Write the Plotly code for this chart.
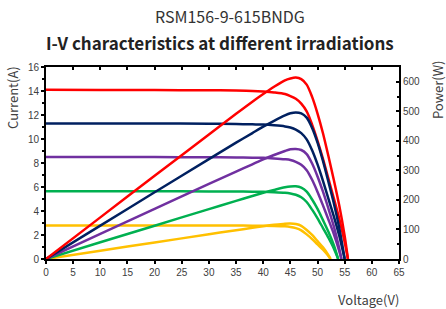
import plotly.graph_objects as go

# ---- data ----
red_v = [0, 10, 20, 30, 35, 38, 40, 42, 44, 45, 46, 47, 48, 49, 50, 51, 52, 53, 54, 55, 55.6]
red_i = [14.10, 14.09, 14.08, 14.06, 14.04, 14.01, 13.96, 13.88, 13.75, 13.58, 13.35, 12.95, 12.30, 11.20, 9.85, 8.35, 6.70, 5.05, 3.35, 1.40, 0]
red_p = [0, 140.9, 281.6, 421.8, 491.4, 532.4, 558.4, 583.0, 605.0, 611.1, 614.1, 608.7, 590.4, 548.8, 492.5, 425.9, 348.4, 267.7, 180.9, 77.0, 0]

navy_v = [0, 10, 20, 30, 35, 38, 40, 42, 44, 45, 46, 47, 48, 49, 50, 51, 52, 53, 54, 55]
navy_i = [11.30, 11.30, 11.29, 11.27, 11.25, 11.22, 11.20, 11.14, 11.05, 10.96, 10.79, 10.49, 9.97, 9.06, 7.88, 6.51, 5.03, 3.56, 1.94, 0]
navy_p = [0, 113.0, 225.8, 338.1, 393.8, 426.4, 448.0, 467.9, 486.2, 493.2, 496.3, 493.0, 478.6, 443.9, 394.0, 332.0, 261.6, 188.7, 104.8, 0]

purple_v = [0, 10, 20, 30, 35, 38, 40, 42, 44, 45, 46, 47, 48, 49, 50, 51, 52, 53, 54, 54.4]
purple_i = [8.50, 8.50, 8.49, 8.48, 8.46, 8.44, 8.43, 8.38, 8.31, 8.25, 8.10, 7.85, 7.40, 6.60, 5.59, 4.47, 3.29, 2.08, 0.66, 0]
purple_p = [0, 85.0, 169.8, 254.4, 296.1, 320.7, 337.2, 352.0, 365.6, 371.3, 372.6, 369.0, 355.2, 323.4, 279.5, 228.0, 171.1, 110.2, 35.6, 0]

green_v = [0, 10, 20, 30, 35, 38, 40, 42, 44, 45, 46, 47, 48, 49, 50, 51, 52, 53, 53.8]
green_i = [5.65, 5.65, 5.64, 5.63, 5.62, 5.61, 5.60, 5.57, 5.52, 5.46, 5.35, 5.14, 4.75, 4.11, 3.39, 2.58, 1.77, 0.88, 0]
green_p = [0, 56.5, 112.8, 168.9, 196.7, 213.2, 224.0, 233.9, 242.9, 245.7, 246.1, 241.6, 228.0, 201.4, 169.5, 131.6, 92.0, 46.6, 0]

yellow_v = [0, 10, 20, 30, 35, 38, 40, 42, 44, 45, 46, 47, 48, 49, 50, 51, 52, 52.4]
yellow_i = [2.80, 2.80, 2.80, 2.79, 2.785, 2.78, 2.775, 2.758, 2.72, 2.67, 2.57, 2.39, 2.05, 1.66, 1.21, 0.77, 0.25, 0]
yellow_p = [0, 28.0, 56.0, 83.7, 97.5, 105.6, 111.0, 115.8, 119.7, 120.2, 118.2, 112.3, 98.4, 81.3, 60.5, 39.3, 13.0, 0]

x_ticks = list(range(0, 70, 5))
y_ticks = list(range(0, 18, 2))
p_ticks = [0, 100, 200, 300, 400, 500, 600]

series = [
    (yellow_v, yellow_i, yellow_p, "#FFC000"),
    (green_v, green_i, green_p, "#00B050"),
    (purple_v, purple_i, purple_p, "#7030A0"),
    (navy_v, navy_i, navy_p, "#002060"),
    (red_v, red_i, red_p, "#FF0000"),
]

fig = go.Figure()
for v, i, p, c in series:
    fig.add_trace(go.Scatter(x=v, y=i, mode="lines", line=dict(color=c, width=2.5, shape="spline", smoothing=0.8),
                             showlegend=False, hoverinfo="skip"))
    fig.add_trace(go.Scatter(x=v, y=p, mode="lines", yaxis="y2", line=dict(color=c, width=2.5, shape="spline", smoothing=0.8),
                             showlegend=False, hoverinfo="skip"))

# invisible trace for the top tick axis
fig.add_trace(go.Scatter(x=[0], y=[0], xaxis="x2", mode="markers", marker=dict(opacity=0),
                         showlegend=False, hoverinfo="skip"))

tick_font = dict(family="Liberation Sans", size=10, color="#404040")
fig.update_layout(
    width=446, height=309,
    margin=dict(l=46, r=47, t=67, b=50),
    paper_bgcolor="white", plot_bgcolor="white",
    xaxis=dict(range=[0, 65], tickvals=x_ticks, ticks="outside", ticklen=3, tickwidth=1.5, tickcolor="black",
               showline=True, linecolor="black", linewidth=2, mirror=True, showgrid=False, zeroline=False,
               tickfont=tick_font),
    xaxis2=dict(range=[0, 65], tickvals=x_ticks, ticks="inside", ticklen=3, tickwidth=1.5, tickcolor="black",
                overlaying="x", side="top", anchor="y", showticklabels=False, showline=False,
                showgrid=False, zeroline=False),
    yaxis=dict(range=[0, 16], tickvals=y_ticks, ticks="outside", ticklen=3, tickwidth=1.5, tickcolor="black",
               minor=dict(dtick=1, ticks="outside", ticklen=2, tickwidth=1.5, tickcolor="black"),
               showline=True, linecolor="black", linewidth=2, showgrid=False, zeroline=False,
               tickfont=tick_font),
    yaxis2=dict(range=[0, 650], tickvals=p_ticks, ticks="inside", ticklen=3, tickwidth=1.5, tickcolor="black",
                minor=dict(dtick=50, ticks="inside", ticklen=2, tickwidth=1.5, tickcolor="black"),
                overlaying="y", side="right", anchor="x",
                showline=True, linecolor="black", linewidth=2, showgrid=False, zeroline=False,
                tickfont=tick_font),
)

title_font = "Noto Sans CJK SC"
common = dict(xref="paper", yref="paper", showarrow=False, xanchor="center", yanchor="middle")
fig.add_annotation(text="RSM156-9-615BNDG", x=0.521, y=1.2656,
                   font=dict(family=title_font, size=16, color="#333333"), **common)
fig.add_annotation(text="<b>I-V characteristics at different irradiations</b>",
                   x=0.493, y=1.130, font=dict(family=title_font, size=17, color="#222222"), **common)
fig.add_annotation(text="Current(A)", x=-0.0963, y=0.8385, textangle=-90,
                   font=dict(family=title_font, size=13, color="#404040"), **common)
fig.add_annotation(text="Power(W)", x=1.1076, y=0.885, textangle=-90,
                   font=dict(family=title_font, size=13, color="#404040"), **common)
fig.add_annotation(text="Voltage(V)", x=0.915, y=-0.2135,
                   font=dict(family=title_font, size=13, color="#404040"), **common)

fig.write_html("out.html", config={"displayModeBar": False},
               post_script="document.body.style.margin='0';")
